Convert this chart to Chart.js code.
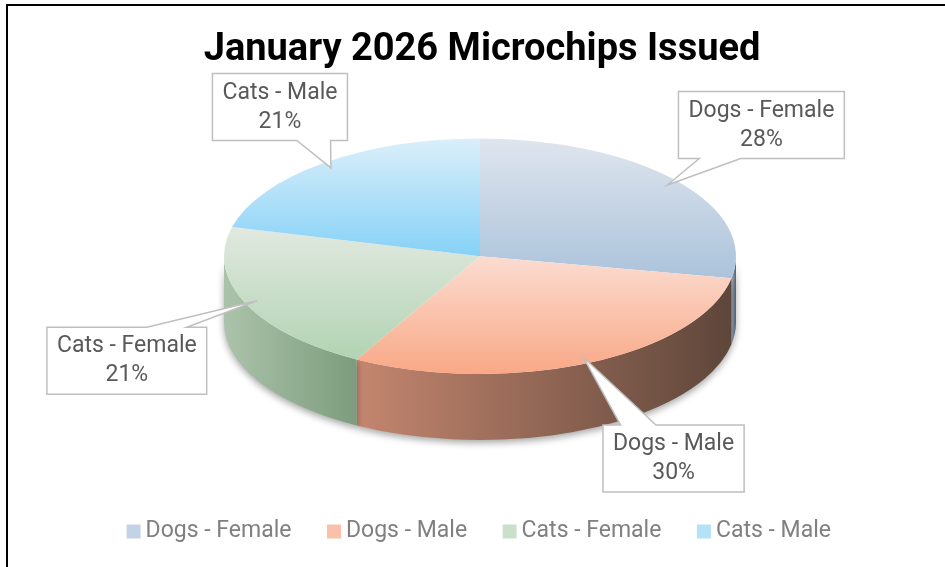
<!DOCTYPE html>
<html>
<head>
<meta charset="utf-8">
<script src="https://cdn.jsdelivr.net/npm/chart.js@4.4.1/dist/chart.umd.min.js"></script>
<style>
html, body { margin: 0; padding: 0; background: #fff; }
#wrap { position: absolute; left: 0; top: 0; width: 945px; height: 567px; }
</style>
</head>
<body>
<div id="wrap"><canvas id="chart" width="945" height="567"></canvas></div>
<script>
const categories = ['Dogs - Female', 'Dogs - Male', 'Cats - Female', 'Cats - Male'];
const shares = [28, 30, 21, 21];
const topColors = [['#dfe5ee', '#abc3db'], ['#fbdcd1', '#f9a886'], ['#e1e9e0', '#b2d3b3'], ['#dbeffa', '#86d1f7']];
const sideColors = [['#9fb0c4', '#56606c'], ['#c4866f', '#5e463a'], ['#abc3aa', '#7c9c7d'], ['#8fc0dc', '#4d6b7c']];
const legendColors = ['#c3d2e4', '#fbc0a9', '#cbe0ca', '#b5e2f8'];

const total = shares.reduce((a, b) => a + b, 0);

// frame line, top and left edges only (rest is cut off in the original)
const frame = {
	id: 'frame',
	beforeDraw(chart) {
		const ctx = chart.ctx;
		ctx.save();
		ctx.fillStyle = '#000';
		ctx.fillRect(6, 4, 2, 600);
		ctx.fillRect(6, 4, 945, 2);
		ctx.restore();
	}
};

function calloutPath(ctx, bx, by, w, h, tip) {
	const side = tip.y > by + h ? 'bottom' : tip.y < by ? 'top' : (tip.x < bx ? 'left' : 'right');
	const baseX = tip.x > bx + w / 2 ? bx + w * 0.75 : bx + w * 0.25;
	const half = w * 0.125;
	ctx.beginPath();
	ctx.moveTo(bx, by);
	if (side === 'top') {
		ctx.lineTo(baseX - half, by);
		ctx.lineTo(tip.x, tip.y);
		ctx.lineTo(baseX + half, by);
	}
	ctx.lineTo(bx + w, by);
	if (side === 'right') {
		ctx.lineTo(bx + w, by + h * 0.35);
		ctx.lineTo(tip.x, tip.y);
		ctx.lineTo(bx + w, by + h * 0.65);
	}
	ctx.lineTo(bx + w, by + h);
	if (side === 'bottom') {
		ctx.lineTo(baseX + half, by + h);
		ctx.lineTo(tip.x, tip.y);
		ctx.lineTo(baseX - half, by + h);
	}
	ctx.lineTo(bx, by + h);
	if (side === 'left') {
		ctx.lineTo(bx, by + h * 0.65);
		ctx.lineTo(tip.x, tip.y);
		ctx.lineTo(bx, by + h * 0.35);
	}
	ctx.closePath();
}

// squashes the pie into an ellipse and extrudes the front walls
const pie3d = {
	id: 'pie3d',
	beforeDatasetsDraw(chart, args, opts) {
		const arcs = chart.getDatasetMeta(0).data;
		if (!arcs.length) return;
		const ctx = chart.ctx;
		const cx = arcs[0].x, cy = arcs[0].y, r = arcs[0].outerRadius;
		const rx = opts.rx, ry = opts.rx * opts.tilt;
		const sx = rx / r, sy = ry / r;
		const X = cx + opts.shiftX, Y = cy - opts.depth / 2;
		chart.$pie = { X, Y, rx, ry };

		ctx.save();
		ctx.translate(X, Y);
		ctx.scale(sx, sy);
		ctx.translate(-cx, -cy);
		const d = opts.depth / sy;

		// side walls, only the front half shows
		ctx.save();
		ctx.shadowColor = 'rgba(0,0,0,0.35)';
		ctx.shadowBlur = 7;
		ctx.shadowOffsetY = 3;
		arcs.forEach((arc, i) => {
			const a1 = Math.max(arc.startAngle, 0);
			const a2 = Math.min(arc.endAngle, Math.PI);
			if (a2 <= a1) return;
			const left = cx + r * Math.cos(a2), right = cx + r * Math.cos(a1);
			const g = ctx.createLinearGradient(left, 0, right, 0);
			g.addColorStop(0, sideColors[i][0]);
			g.addColorStop(1, sideColors[i][1]);
			ctx.beginPath();
			ctx.arc(cx, cy, r, a1, a2);
			ctx.arc(cx, cy + d, r, a2, a1, true);
			ctx.closePath();
			ctx.fillStyle = g;
			ctx.fill();
		});
		ctx.restore();

		// top face, one vertical gradient per slice
		arcs.forEach((arc, i) => {
			let ymin = cy, ymax = cy;
			for (let k = 0; k <= 60; k++) {
				const a = arc.startAngle + (arc.endAngle - arc.startAngle) * k / 60;
				const y = cy + r * Math.sin(a);
				ymin = Math.min(ymin, y);
				ymax = Math.max(ymax, y);
			}
			const g = ctx.createLinearGradient(0, ymin, 0, ymax);
			g.addColorStop(0, topColors[i][0]);
			g.addColorStop(1, topColors[i][1]);
			arc.options = Object.assign({}, arc.options, { backgroundColor: g });
		});
	},
	afterDatasetsDraw(chart, args, opts) {
		const arcs = chart.getDatasetMeta(0).data;
		if (!arcs.length) return;
		const ctx = chart.ctx;
		ctx.restore();

		const { X, Y, rx, ry } = chart.$pie;
		ctx.save();
		ctx.font = '23px Roboto';
		ctx.textAlign = 'center';
		ctx.textBaseline = 'middle';
		arcs.forEach((arc, i) => {
			const mid = (arc.startAngle + arc.endAngle) / 2;
			const tip = { x: X + rx * 0.95 * Math.cos(mid), y: Y + ry * 0.95 * Math.sin(mid) };
			const lines = [categories[i], Math.round(shares[i] / total * 100) + '%'];
			const w = Math.max(...lines.map(t => ctx.measureText(t).width)) + 20;
			const h = 67;
			const [dx, dy] = opts.callouts[i];
			const bx = tip.x + dx - w / 2, by = tip.y + dy - h / 2;
			calloutPath(ctx, bx, by, w, h, tip);
			ctx.fillStyle = '#fff';
			ctx.fill();
			ctx.strokeStyle = '#bfbfbf';
			ctx.lineWidth = 1.5;
			ctx.stroke();
			ctx.fillStyle = '#595959';
			ctx.fillText(lines[0], bx + w / 2, by + h / 2 - 14);
			ctx.fillText(lines[1], bx + w / 2, by + h / 2 + 15);
		});
		ctx.restore();
	}
};

new Chart(document.getElementById('chart'), {
	type: 'pie',
	data: {
		labels: categories,
		datasets: [{
			data: shares,
			backgroundColor: legendColors,
			borderWidth: 0,
			clip: false
		}]
	},
	plugins: [frame, pie3d],
	options: {
		responsive: false,
		animation: false,
		events: [],
		layout: { padding: { left: 19, right: 0, top: 0, bottom: 14 } },
		plugins: {
			title: {
				display: true,
				text: 'January 2026 Microchips Issued',
				color: '#000',
				font: { family: 'Roboto', size: 38, weight: 'bold' },
				padding: { top: 28, bottom: 27 }
			},
			legend: {
				position: 'bottom',
				labels: {
					usePointStyle: true,
					pointStyle: 'rect',
					boxWidth: 1,
					boxHeight: 14,
					padding: 42,
					color: '#808080',
					font: { family: 'Roboto', size: 23 }
				}
			},
			tooltip: { enabled: false },
			pie3d: {
				rx: 256,
				tilt: 0.46,
				depth: 66,
				shiftX: -2,
				callouts: [[94, -60], [90, 101], [-130, 60], [-51, -61]]
			}
		}
	}
});
</script>
</body>
</html>
